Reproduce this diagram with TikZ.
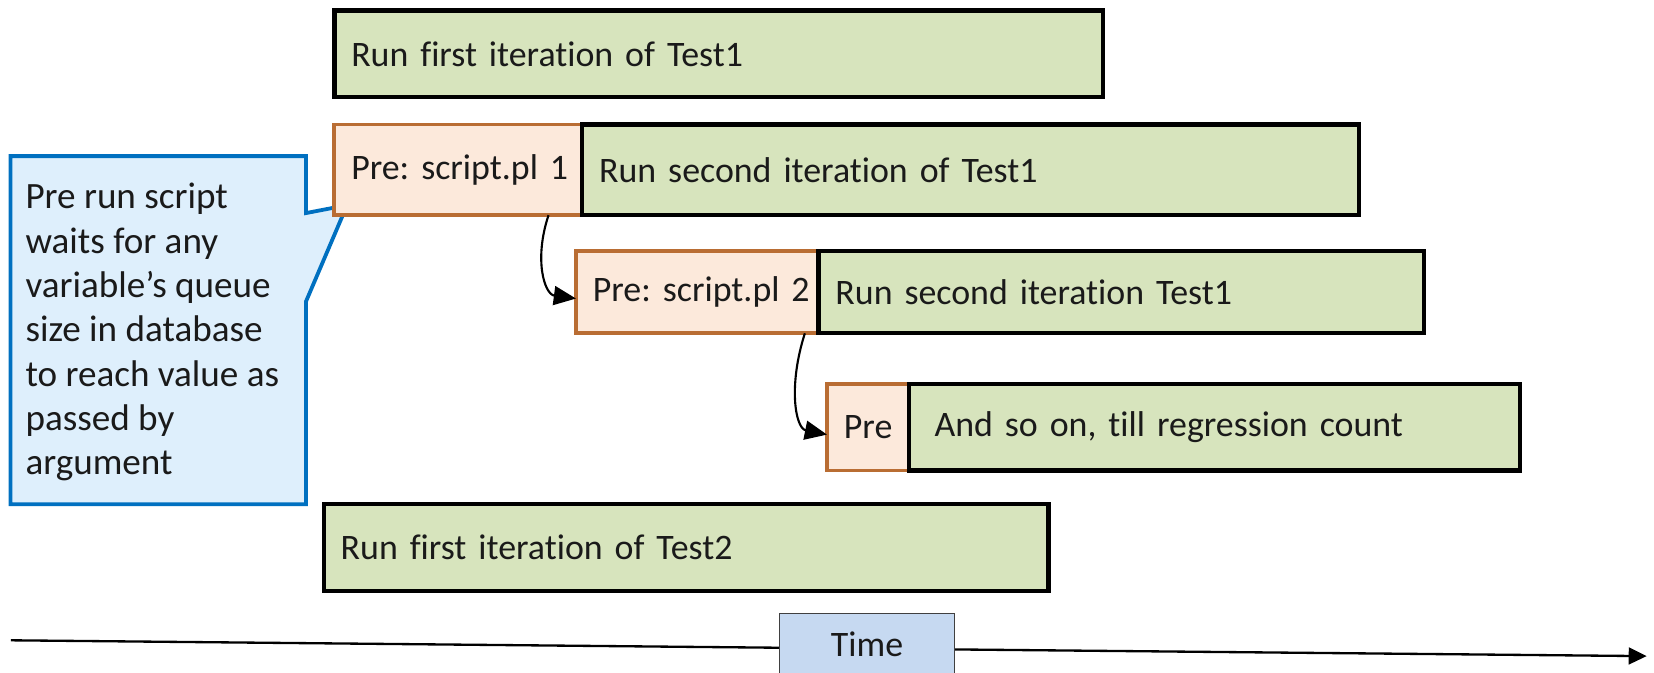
\documentclass[tikz,border=0pt]{standalone}
\usepackage{fontspec}
\setmainfont{Carlito}[Ligatures=NoCommon]
\usetikzlibrary{arrows.meta,calc}

\definecolor{runfill}{HTML}{D7E4BD}
\definecolor{prefill}{HTML}{FCE9DB}
\definecolor{preline}{HTML}{B96D33}
\definecolor{notefill}{HTML}{DEEFFC}
\definecolor{noteline}{HTML}{0070C0}
\definecolor{timefill}{HTML}{C6D9F1}
\definecolor{timeline}{HTML}{404040}
\definecolor{ink}{HTML}{1A1A1A}

\begin{document}
\begin{tikzpicture}[x=1pt,y=-1pt,
  every node/.style={font=\fontsize{34pt}{42pt}\selectfont, text=ink,
    execute at begin node=\frenchspacing},
  runbar/.style={draw=black, line width=4pt, fill=runfill, anchor=north west,
    outer sep=0pt, inner xsep=16pt, inner ysep=0pt, align=left},
  prebar/.style={draw=preline, line width=3.6pt, fill=prefill, anchor=north west,
    outer sep=0pt, inner xsep=16pt, inner ysep=0pt, align=left},
  conn/.style={draw=black, line width=2pt, -{Triangle[length=21pt,width=18pt]}},
  axis/.style={draw=black, line width=2.2pt, -{Triangle[length=17pt,width=16pt]}},
  timebox/.style={draw=timeline, line width=1pt, fill=timefill, anchor=north west,
    outer sep=0pt, minimum width=166pt, minimum height=58pt, inner sep=0pt}
]
\useasboundingbox (0,0) rectangle (1568,638);

% time axis, drawn first so the label box sits on it
\coordinate (tstart) at (10.4,607);
\coordinate (tend) at (1561,622);
\draw[axis] (tstart) -- (tend);
\node[timebox] (time) at (739,582) {Time};

% note with its pointer; the tip hides under the first pre-run box
\fill[notefill, draw=noteline, line width=3.6pt, line join=miter]
  (10,148) -- (290,148) -- (290,202) -- (329,194.5) -- (290,286)
  -- (290,478) -- (10,478) -- cycle;
\node[anchor=west, align=left, inner sep=0pt, font=\fontsize{35.2pt}{42pt}\selectfont] (note) at (24,315)
  {Pre run script\\waits for any\\variable’s queue\\size in database\\to reach value as\\passed by\\argument};

% first test, first iteration
\node[runbar, minimum height=82pt, text width=697pt] (run1) at (317,10) {Run first iteration of Test1};

% second iteration with its pre-run script
\node[prebar, minimum height=86pt, text width=203pt] (pre1) at (317,118) {\mbox{Pre: script.pl 1}};
\node[runbar, minimum height=86pt, text width=704pt] (run2) at (552,118) {Run second iteration of Test1};

\node[prebar, minimum height=78pt, text width=198pt] (pre2) at (546,238) {\mbox{Pre: script.pl 2}};
\node[runbar, minimum height=78pt, text width=542pt] (run3) at (776,238) {Run second iteration Test1};

\node[prebar, minimum height=82pt, text width=46pt, inner xsep=16pt, align=center] (pre3) at (784,364) {Pre};
\node[runbar, minimum height=82pt, text width=531pt, inner xsep=24pt] (run4) at (862,364) {And so on, till regression count};

% second test, first iteration
\node[runbar, minimum height=82pt, text width=655pt] (test2) at (307,478) {Run first iteration of Test2};

% hand-over between pre-run scripts
\coordinate (s1) at ($(pre1.south east)+(-32,0)$);
\coordinate (e1) at ($(pre2.west)+(0,6)$);
\draw[conn] (s1) .. controls ($(s1)+(-14,42)$) and ($(e1)+(-30,-4)$) .. (e1);

\coordinate (s2) at ($(pre2.south east)+(-13,0)$);
\coordinate (e2) at ($(pre3.west)+(0,7)$);
\draw[conn] (s2) .. controls ($(s2)+(-16,50)$) and ($(e2)+(-30,-6)$) .. (e2);
\end{tikzpicture}
\end{document}
